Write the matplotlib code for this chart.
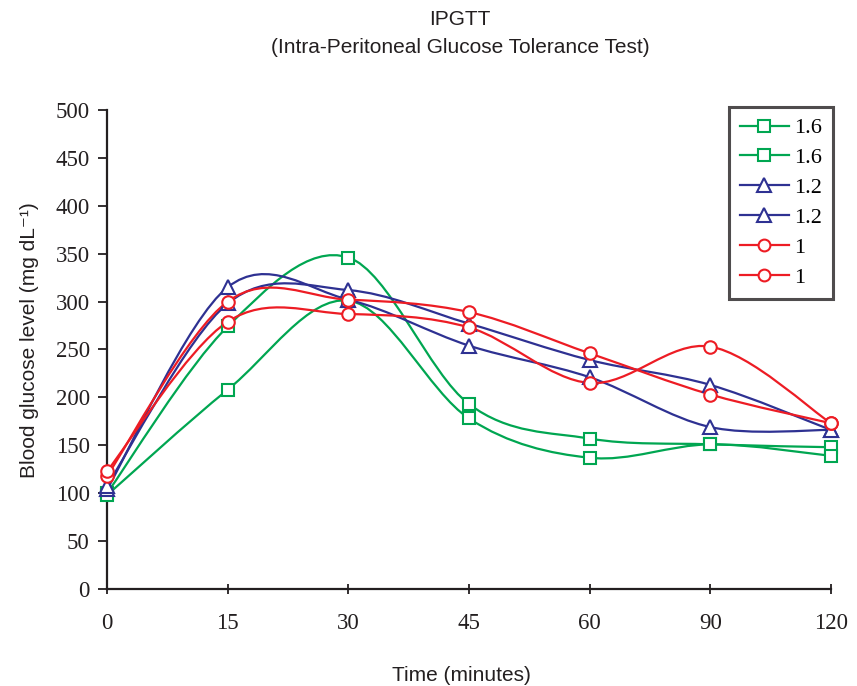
import matplotlib
matplotlib.use('Agg')
import matplotlib.pyplot as plt
from matplotlib.path import Path
from matplotlib.patches import PathPatch
from matplotlib.lines import Line2D

serif = ['Liberation Serif', 'DejaVu Serif']
sans = ['Liberation Sans', 'DejaVu Sans']

# Данные
times = ['0', '15', '30', '45', '60', '90', '120']
green_a = [100, 274, 346, 193, 157, 151, 148]
green_b = [98, 208, 301, 178, 137, 151, 139]
blue_a = [104, 315, 302, 254, 221, 169, 166]
blue_b = [108, 298, 312, 277, 239, 213, 166]
red_a = [118, 300, 302, 289, 246, 203, 173]
red_b = [123, 279, 287, 273, 215, 253, 173]
labels = ['1.6', '1.6', '1.2', '1.2', '1', '1']

GREEN = '#00a651'
BLUE = '#2e3192'
RED = '#ed1c24'
INK = '#231f20'


def smooth_path(xs, ys):
    # сглаживание как в Excel (Catmull-Rom -> кривые Безье)
    pts = list(zip(xs, ys))
    n = len(pts)
    verts = [pts[0]]
    codes = [Path.MOVETO]
    for i in range(n - 1):
        p0 = pts[i - 1] if i > 0 else pts[i]
        p1 = pts[i]
        p2 = pts[i + 1]
        p3 = pts[i + 2] if i + 2 < n else pts[i + 1]
        c1 = (p1[0] + (p2[0] - p0[0]) / 6, p1[1] + (p2[1] - p0[1]) / 6)
        c2 = (p2[0] - (p3[0] - p1[0]) / 6, p2[1] - (p3[1] - p1[1]) / 6)
        verts += [c1, c2, p2]
        codes += [Path.CURVE4] * 3
    return Path(verts, codes)


fig = plt.figure(figsize=(8.57, 6.86), dpi=100)
ax = fig.add_axes([0.1249, 0.1414, 0.8448, 0.6983])

series = [
    (green_a, GREEN, 's'),
    (green_b, GREEN, 's'),
    (blue_a, BLUE, '^'),
    (blue_b, BLUE, '^'),
    (red_a, RED, 'o'),
    (red_b, RED, 'o'),
]

x = list(range(len(times)))
handles = []
for (vals, col, mk), lab in zip(series, labels):
    patch = PathPatch(smooth_path(x, vals), facecolor='none', edgecolor=col,
                      lw=1.6, zorder=2, clip_on=False)
    ax.add_patch(patch)
    ms = 10 if mk == '^' else 9
    ax.plot(x, vals, linestyle='none', marker=mk, ms=ms, mfc='white',
            mec=col, mew=1.5, zorder=3, clip_on=False)
    handles.append(Line2D([0], [0], color=col, lw=1.6, marker=mk, ms=ms - 0.5,
                          mfc='white', mec=col, mew=1.5, label=lab))

ax.set_xlim(0, 6)
ax.set_ylim(0, 500)
ax.set_xticks(x)
ax.set_xticklabels(times, fontfamily=serif, fontsize=16.5)
ax.set_yticks(range(0, 501, 50))
ax.set_yticklabels([str(v) for v in range(0, 501, 50)], fontfamily=serif, fontsize=16.5)

for side in ['top', 'right']:
    ax.spines[side].set_visible(False)
for side in ['left', 'bottom']:
    ax.spines[side].set_linewidth(1.6)
    ax.spines[side].set_color(INK)
ax.tick_params(axis='y', direction='out', length=6.5, width=1.3, pad=6, colors=INK)
ax.tick_params(axis='x', direction='inout', length=7, width=1.3, pad=14, colors=INK)

ax.set_xlabel('Time (minutes)', fontfamily=sans, fontsize=15, color=INK)
ax.xaxis.set_label_coords(0.49, -0.16)
ax.set_ylabel('Blood glucose level (mg dL⁻¹)', fontfamily=sans, fontsize=15, color=INK)
ax.yaxis.set_label_coords(-0.094, 0.52)

fig.text(0.537, 0.971, 'IPGTT', ha='center', va='center', fontfamily=sans,
         fontsize=15, color=INK)
fig.text(0.537, 0.931, '(Intra-Peritoneal Glucose Tolerance Test)', ha='center',
         va='center', fontfamily=sans, fontsize=15, color=INK)

leg = ax.legend(handles=handles, loc='upper right', bbox_to_anchor=(1.003, 1.007),
                frameon=True, fancybox=False, prop={'family': serif, 'size': 16},
                handlelength=2.2, labelspacing=0.42, borderpad=0.5,
                handletextpad=0.25, borderaxespad=0)
leg.get_frame().set_edgecolor(INK)
leg.get_frame().set_linewidth(2.2)

fig.savefig('out.png', dpi=100)
